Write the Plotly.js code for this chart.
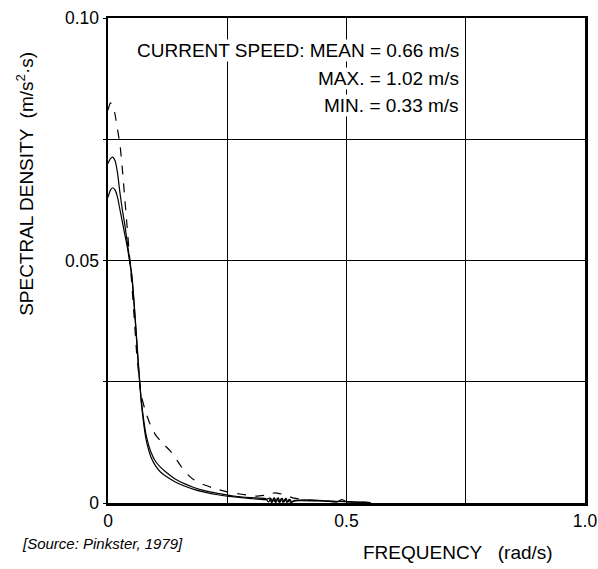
<!DOCTYPE html>
<html><head><meta charset="utf-8">
<script src="https://cdn.plot.ly/plotly-3.0.1.min.js"></script>
<style>html,body{margin:0;padding:0;background:#fff}#c{width:598px;height:569px}</style>
</head><body><div id="c"></div>
<script>
// Dashed spectrum (highest peak)
const xDash = [0,0.005,0.01,0.015,0.02,0.025,0.03,0.035,0.04,0.045,0.05,0.055,0.06,0.065,0.07,0.08,0.09,0.1,0.11,0.12,0.13,0.14,0.15,0.16,0.17,0.18,0.2,0.22,0.25,0.28,0.31,0.33,0.35,0.37,0.39,0.42,0.46,0.5,0.55];
const yDash = [0.081,0.0825,0.082,0.080,0.077,0.074,0.069,0.063,0.057,0.051,0.045,0.038,0.031,0.026,0.022,0.0185,0.0158,0.0140,0.0128,0.0118,0.0108,0.0095,0.0080,0.0066,0.0056,0.0048,0.0038,0.0031,0.0023,0.0018,0.0014,0.0016,0.0021,0.0017,0.0010,0.0006,0.0004,0.0003,0.0001];
// Solid spectrum A (middle peak)
const xSolidA = [0,0.005,0.01,0.015,0.02,0.025,0.03,0.035,0.04,0.045,0.05,0.055,0.06,0.065,0.07,0.075,0.08,0.09,0.1,0.11,0.12,0.14,0.16,0.18,0.2,0.23,0.26,0.3,0.33,0.337,0.341,0.345,0.349,0.353,0.357,0.361,0.365,0.369,0.373,0.377,0.381,0.385,0.39,0.4,0.45,0.48,0.49,0.5,0.55];
const ySolidA = [0.0700,0.0710,0.0713,0.0705,0.0680,0.0640,0.0605,0.0575,0.0540,0.0505,0.0470,0.0410,0.0340,0.0270,0.0210,0.0170,0.0140,0.0105,0.0085,0.0074,0.0065,0.0050,0.0040,0.0032,0.0026,0.0020,0.0015,0.0011,0.0009,0.0002,0.0010,0.0002,0.0011,0.0002,0.0011,0.0002,0.0010,0.0002,0.0010,0.0002,0.0008,0.0002,0.0005,0.0006,0.0005,0.0002,0.0007,0.0003,0.0001];
// Solid spectrum B (lowest peak)
const xSolidB = [0,0.005,0.01,0.015,0.02,0.025,0.03,0.035,0.04,0.045,0.05,0.055,0.06,0.065,0.07,0.075,0.08,0.09,0.1,0.11,0.12,0.14,0.16,0.18,0.2,0.23,0.26,0.3,0.33,0.339,0.343,0.347,0.351,0.355,0.359,0.363,0.367,0.371,0.375,0.379,0.383,0.39,0.4,0.45,0.5,0.55];
const ySolidB = [0.0630,0.0645,0.0650,0.0645,0.0630,0.0605,0.0580,0.0555,0.0530,0.0500,0.0465,0.0405,0.0335,0.0265,0.0205,0.0162,0.0130,0.0095,0.0076,0.0064,0.0056,0.0044,0.0035,0.0028,0.0023,0.0017,0.0013,0.0009,0.0007,0.0010,0.0001,0.0010,0.0001,0.0010,0.0001,0.0009,0.0001,0.0008,0.0001,0.0007,0.0001,0.0004,0.0005,0.0004,0.0003,0.0001];

const xTickVals = [0,0.5,1.0];
const xTickText = ['0','0.5','1.0'];
const yTickVals = [0,0.05,0.1];
const yTickText = ['0','0.05','0.10'];
const infoLines = ['CURRENT SPEED: MEAN = 0.66 m/s','MAX. = 1.02 m/s','MIN. = 0.33 m/s'];
const yTitle = 'SPECTRAL DENSITY  (m/s<sup>2</sup>·s)';
const xTitle = 'FREQUENCY   (rad/s)';
const sourceText = '<i>[Source: Pinkster, 1979]</i>';

const F = 'Liberation Sans, Arial, sans-serif';
const mk = (x,y,dash)=>({x:x,y:y,mode:'lines',line:{color:'#000',width:1.2,dash:dash,shape:'spline',smoothing:0.5},showlegend:false,hoverinfo:'skip'});
const traces = [mk(xDash,yDash,'dash'), mk(xSolidA,ySolidA,'solid'), mk(xSolidB,ySolidB,'solid')];

const infoY = [0.9326,0.876,0.8186];
const annotations = infoLines.map((t,i)=>({text:t,xref:'paper',yref:'paper',x:0.738,y:infoY[i],xanchor:'right',yanchor:'middle',showarrow:false,bgcolor:'#fff',borderpad:0,font:{family:F,size:19,color:'#000'}}));
annotations.push({text:yTitle,xref:'paper',yref:'paper',x:-0.174,y:0.658,textangle:-90,xanchor:'center',yanchor:'middle',showarrow:false,font:{family:F,size:19,color:'#000'}});
annotations.push({text:xTitle,xref:'paper',yref:'paper',x:0.734,y:-0.103,xanchor:'center',yanchor:'middle',showarrow:false,font:{family:F,size:19,color:'#000'}});
annotations.push({text:sourceText,xref:'paper',yref:'paper',x:-0.1845,y:-0.0825,xanchor:'left',yanchor:'middle',showarrow:false,font:{family:F,size:15,color:'#000'}});

const axisCommon = {showgrid:true,gridcolor:'#000',gridwidth:1,zeroline:false,showline:true,linecolor:'#000',linewidth:2.5,mirror:true,tickfont:{family:F,size:17.5,color:'#000'},fixedrange:true};
const layout = {
  width:598,height:569,
  margin:{l:108,r:13,t:18,b:66},
  paper_bgcolor:'#fff',plot_bgcolor:'#fff',
  showlegend:false,
  xaxis:Object.assign({range:[0,1],tickmode:'array',tickvals:xTickVals,ticktext:xTickText,ticks:'',minor:{tick0:0,dtick:0.25,showgrid:true,gridcolor:'#000',gridwidth:1,ticks:''}},axisCommon),
  yaxis:Object.assign({range:[0,0.1],tickmode:'array',tickvals:yTickVals,ticktext:yTickText,ticks:'outside',ticklen:3,tickwidth:1,tickcolor:'#000',minor:{tick0:0,dtick:0.025,showgrid:true,gridcolor:'#000',gridwidth:1,ticks:'outside',ticklen:3,tickwidth:1,tickcolor:'#000'}},axisCommon),
  annotations:annotations
};
Plotly.newPlot('c',traces,layout,{staticPlot:true,displayModeBar:false});
</script></body></html>
